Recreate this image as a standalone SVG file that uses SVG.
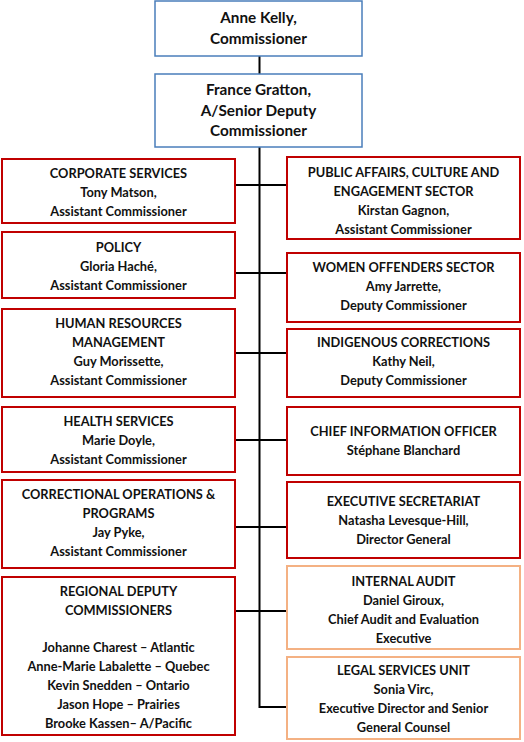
<svg xmlns="http://www.w3.org/2000/svg" width="524" height="742" viewBox="0 0 524 742">
<style>
  .blue{fill:#fff;stroke:#4a7ebb;stroke-width:1.5}
  .red{fill:#fff;stroke:#c00000;stroke-width:2}
  .org{fill:#fff;stroke:#f4b183;stroke-width:2}
  text{font-family:Lato,"Liberation Sans",sans-serif;font-weight:bold;fill:#111;text-anchor:middle;font-size:12.8px}
  .big{font-size:15.3px}
  .ln{stroke:#000;stroke-width:2;fill:none}
</style>
<rect width="524" height="742" fill="#fff"/>
<g id="connectors">
  <line class="ln" x1="259.5" y1="56" x2="259.5" y2="74"/>
  <polyline class="ln" points="259.5,147 259.5,707 286,707"/>
  <line class="ln" x1="235" y1="185" x2="286" y2="185"/>
  <line class="ln" x1="235" y1="273" x2="286" y2="273"/>
  <line class="ln" x1="235" y1="353" x2="286" y2="353"/>
  <line class="ln" x1="235" y1="440" x2="286" y2="440"/>
  <line class="ln" x1="235" y1="527" x2="286" y2="527"/>
  <line class="ln" x1="235" y1="611" x2="286" y2="611"/>
</g>
<g id="commissioner">
  <rect class="blue" x="155" y="1" width="207" height="55"/>
  <text class="big" x="258.5" y="23">Anne Kelly,</text>
  <text class="big" x="258.5" y="44">Commissioner</text>
</g>
<g id="sdc">
  <rect class="blue" x="155" y="74" width="207" height="73"/>
  <text class="big" x="258.5" y="95">France Gratton,</text>
  <text class="big" x="258.5" y="116">A/Senior Deputy</text>
  <text class="big" x="258.5" y="136">Commissioner</text>
</g>
<g id="corporate">
  <rect class="red" x="2" y="159" width="233" height="64"/>
  <text x="118.5" y="178">CORPORATE SERVICES</text>
  <text x="118.5" y="197">Tony Matson,</text>
  <text x="118.5" y="216">Assistant Commissioner</text>
</g>
<g id="policy">
  <rect class="red" x="2" y="232" width="233" height="66"/>
  <text x="118.5" y="252">POLICY</text>
  <text x="118.5" y="271">Gloria Haché,</text>
  <text x="118.5" y="290">Assistant Commissioner</text>
</g>
<g id="hr">
  <rect class="red" x="2" y="309" width="233" height="88"/>
  <text x="118.5" y="328">HUMAN RESOURCES</text>
  <text x="118.5" y="347">MANAGEMENT</text>
  <text x="118.5" y="366">Guy Morissette,</text>
  <text x="118.5" y="385">Assistant Commissioner</text>
</g>
<g id="health">
  <rect class="red" x="2" y="407" width="233" height="65"/>
  <text x="118.5" y="426">HEALTH SERVICES</text>
  <text x="118.5" y="445">Marie Doyle,</text>
  <text x="118.5" y="464">Assistant Commissioner</text>
</g>
<g id="correctional">
  <rect class="red" x="2" y="480" width="233" height="88"/>
  <text x="118.5" y="499">CORRECTIONAL OPERATIONS &amp;</text>
  <text x="118.5" y="518">PROGRAMS</text>
  <text x="118.5" y="537">Jay Pyke,</text>
  <text x="118.5" y="556">Assistant Commissioner</text>
</g>
<g id="regional">
  <rect class="red" x="2" y="577" width="233" height="158"/>
  <text x="118.5" y="596">REGIONAL DEPUTY</text>
  <text x="118.5" y="615">COMMISSIONERS</text>
  <text x="118.5" y="652">Johanne Charest – Atlantic</text>
  <text x="118.5" y="671">Anne-Marie Labalette – Quebec</text>
  <text x="118.5" y="690">Kevin Snedden – Ontario</text>
  <text x="118.5" y="709">Jason Hope – Prairies</text>
  <text x="118.5" y="728">Brooke Kassen– A/Pacific</text>
</g>
<g id="public-affairs">
  <rect class="red" x="287" y="157" width="233" height="82"/>
  <text x="403.5" y="177">PUBLIC AFFAIRS, CULTURE AND</text>
  <text x="403.5" y="196">ENGAGEMENT SECTOR</text>
  <text x="403.5" y="215">Kirstan Gagnon,</text>
  <text x="403.5" y="234">Assistant Commissioner</text>
</g>
<g id="women">
  <rect class="red" x="287" y="253" width="233" height="69"/>
  <text x="403.5" y="272">WOMEN OFFENDERS SECTOR</text>
  <text x="403.5" y="291">Amy Jarrette,</text>
  <text x="403.5" y="310">Deputy Commissioner</text>
</g>
<g id="indigenous">
  <rect class="red" x="287" y="329" width="233" height="68"/>
  <text x="403.5" y="347">INDIGENOUS CORRECTIONS</text>
  <text x="403.5" y="366">Kathy Neil,</text>
  <text x="403.5" y="385">Deputy Commissioner</text>
</g>
<g id="cio">
  <rect class="red" x="287" y="407" width="233" height="68"/>
  <text x="403.5" y="436">CHIEF INFORMATION OFFICER</text>
  <text x="403.5" y="455">Stéphane Blanchard</text>
</g>
<g id="exec-sec">
  <rect class="red" x="287" y="482" width="233" height="76"/>
  <text x="403.5" y="506">EXECUTIVE SECRETARIAT</text>
  <text x="403.5" y="525">Natasha Levesque-Hill,</text>
  <text x="403.5" y="544">Director General</text>
</g>
<g id="internal-audit">
  <rect class="org" x="287" y="566" width="233" height="83"/>
  <text x="403.5" y="586">INTERNAL AUDIT</text>
  <text x="403.5" y="605">Daniel Giroux,</text>
  <text x="403.5" y="624">Chief Audit and Evaluation</text>
  <text x="403.5" y="643">Executive</text>
</g>
<g id="legal">
  <rect class="org" x="287" y="657" width="233" height="82"/>
  <text x="403.5" y="675">LEGAL SERVICES UNIT</text>
  <text x="403.5" y="694">Sonia Virc,</text>
  <text x="403.5" y="713">Executive Director and Senior</text>
  <text x="403.5" y="732">General Counsel</text>
</g>
</svg>
